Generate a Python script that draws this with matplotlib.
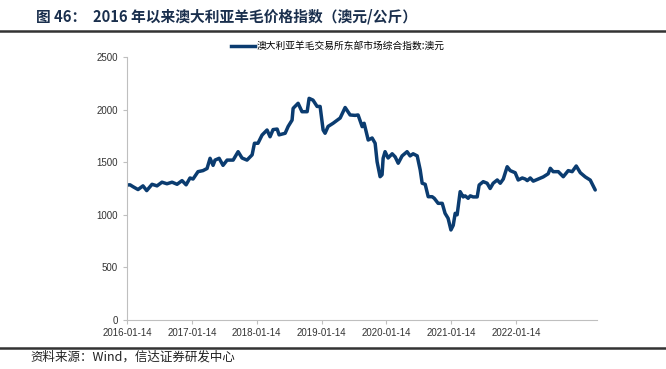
import matplotlib
matplotlib.use("Agg")
import matplotlib.pyplot as plt
import numpy as np
import pandas as pd
from matplotlib.lines import Line2D

plt.rcParams['font.family'] = ['Liberation Sans', 'Noto Sans CJK SC', 'DejaVu Sans']

dates = [
    "2016-01-14", "2016-01-31", "2016-02-17", "2016-03-16", "2016-04-13", "2016-05-04",
    "2016-06-03", "2016-07-01", "2016-07-29", "2016-08-26", "2016-09-24", "2016-10-22",
    "2016-11-19", "2016-12-12", "2017-01-03", "2017-01-20", "2017-02-17", "2017-03-17",
    "2017-04-09", "2017-04-26", "2017-05-13", "2017-05-24", "2017-06-16", "2017-07-08",
    "2017-07-31", "2017-09-03", "2017-10-01", "2017-10-23", "2017-11-20", "2017-12-19",
    "2018-01-01", "2018-01-21", "2018-02-13", "2018-03-13", "2018-03-30", "2018-04-16",
    "2018-05-09", "2018-05-20", "2018-06-23", "2018-07-10", "2018-08-01", "2018-08-07",
    "2018-09-04", "2018-09-26", "2018-10-25", "2018-11-05", "2018-11-27", "2018-12-20",
    "2019-01-06", "2019-01-23", "2019-02-03", "2019-02-20", "2019-03-20", "2019-04-29",
    "2019-05-27", "2019-06-24", "2019-07-22", "2019-08-08", "2019-08-31", "2019-09-11",
    "2019-10-04", "2019-10-26", "2019-11-12", "2019-11-23", "2019-12-10", "2019-12-21",
    "2019-12-27", "2020-01-07", "2020-01-24", "2020-02-16", "2020-03-04", "2020-03-21",
    "2020-04-12", "2020-05-10", "2020-05-27", "2020-06-13", "2020-07-06", "2020-07-23",
    "2020-08-03", "2020-08-20", "2020-09-06", "2020-09-28", "2020-10-10", "2020-11-01",
    "2020-11-24", "2020-12-10", "2020-12-27", "2021-01-12", "2021-01-25", "2021-02-05",
    "2021-02-16", "2021-03-05", "2021-03-22", "2021-04-02", "2021-04-19", "2021-05-01",
    "2021-05-17", "2021-06-09", "2021-06-20", "2021-07-13", "2021-08-04", "2021-08-21",
    "2021-09-07", "2021-09-30", "2021-10-17", "2021-11-03", "2021-11-25", "2021-12-12",
    "2022-01-09", "2022-01-26", "2022-02-18", "2022-03-07", "2022-03-18", "2022-04-04",
    "2022-04-21", "2022-05-19", "2022-06-16", "2022-07-14", "2022-07-26", "2022-08-11",
    "2022-09-09", "2022-10-07", "2022-11-04", "2022-11-26", "2022-12-19", "2023-01-11",
    "2023-02-08", "2023-03-08", "2023-04-05",
]
values = [
    1283, 1285, 1267, 1240, 1275, 1230,
    1290, 1275, 1310, 1295, 1310, 1290,
    1325, 1285, 1350, 1340, 1410, 1420,
    1440, 1537, 1470, 1520, 1537, 1470,
    1520, 1520, 1600, 1540, 1520, 1570,
    1680, 1680, 1758, 1806, 1742, 1810,
    1815, 1760, 1775, 1840, 1900, 2012,
    2060, 1980, 1980, 2107, 2090, 2030,
    2030, 1806, 1775, 1840, 1870, 1920,
    2020, 1949, 1945, 1949, 1838, 1870,
    1711, 1730, 1680, 1505, 1362, 1380,
    1537, 1600, 1540, 1580, 1550, 1490,
    1560, 1600, 1560, 1580, 1560, 1426,
    1300, 1290, 1172, 1172, 1157, 1109,
    1109, 1014, 967, 856, 900, 1014,
    1000, 1220, 1170, 1180, 1157, 1180,
    1170, 1170, 1283, 1315, 1300, 1250,
    1300, 1331, 1300, 1340, 1457, 1420,
    1400, 1331, 1350, 1340, 1325, 1350,
    1320, 1340, 1360, 1390, 1442, 1410,
    1410, 1362, 1420, 1410, 1464, 1400,
    1360, 1330, 1236,
]
tick_labels = ["2016-01-14", "2017-01-14", "2018-01-14", "2019-01-14",
               "2020-01-14", "2021-01-14", "2022-01-14"]
y_ticks = [0, 500, 1000, 1500, 2000, 2500]
series_name = "澳大利亚羊毛交易所东部市场综合指数:澳元"
title = "图 46：  2016 年以来澳大利亚羊毛价格指数（澳元/公斤）"
source = "资料来源：Wind，信达证券研发中心"
x_start, x_end = "2016-01-14", "2023-04-15"

line_color = "#0b3c70"
axis_color = "#bfbfbf"

fig = plt.figure(figsize=(6.66, 3.69), dpi=100)
ax = fig.add_axes([127/666, 1-320/369, (597-127)/666, (320-57)/369])

x = pd.to_datetime(dates)
ax.plot(x, values, color=line_color, lw=2.5, solid_joinstyle='round', solid_capstyle='round')

ax.set_xlim(pd.Timestamp(x_start), pd.Timestamp(x_end))
ax.set_ylim(0, 2500)
ax.set_yticks(y_ticks)
ax.set_xticks(pd.to_datetime(tick_labels))
ax.set_xticklabels(tick_labels)
ax.tick_params(axis='both', labelsize=7, colors=axis_color, labelcolor='#333333',
               length=3, width=0.8)
ax.tick_params(axis='x', pad=3)
for s in ['top', 'right']:
    ax.spines[s].set_visible(False)
for s in ['left', 'bottom']:
    ax.spines[s].set_color(axis_color)
    ax.spines[s].set_linewidth(0.8)

# legend
handle = Line2D([0], [0], color=line_color, lw=2.5)
fig.legend([handle], [series_name], loc='center', bbox_to_anchor=(338/666, 1-46/369),
           frameon=False, handlelength=2.4, handletextpad=0.2,
           prop={'family': ['Noto Sans CJK SC', 'DejaVu Sans'], 'size': 7})

# title and rules
fig.text(36/666, 1-17/369, title, fontsize=10.6, fontweight='bold', color='#1a2f4d',
         va='center', ha='left', family=['Noto Sans CJK SC', 'DejaVu Sans'])
fig.add_artist(Line2D([0, 1], [1-31/369, 1-31/369], color='#333333', lw=1.8,
                      transform=fig.transFigure))
fig.add_artist(Line2D([0, 1], [1-348/369, 1-348/369], color='#333333', lw=1.8,
                      transform=fig.transFigure))
fig.text(30/666, 1-357/369, source, fontsize=9, color='#222222', style='italic',
         va='center', ha='left', family=['Noto Sans CJK SC', 'DejaVu Sans'])

fig.savefig("out.png", dpi=100)
